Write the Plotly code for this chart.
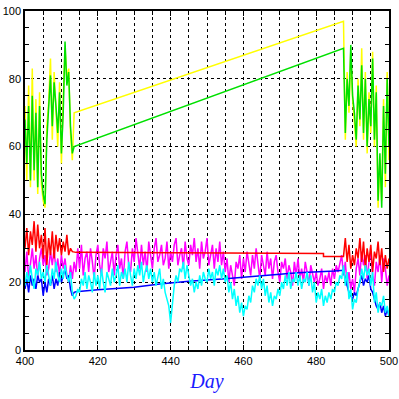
import numpy as np
import plotly.graph_objects as go

# ---- time axes (days) ----
days_full = np.arange(400.0, 500.01, 0.5)          # 201 points
days_left = np.arange(400.0, 413.51, 0.5)          # 28 points
days_right = np.arange(488.0, 500.01, 0.5)         # 25 points

# ---- series values ----
cyan_vals = [
    19, 23, 20, 25, 21, 18, 24, 22, 26, 21,
    23, 20, 25, 22, 19, 24, 21, 26, 22, 20,
    24, 21, 25, 22, 20, 23, 17, 15, 16, 18,
    17, 21, 19, 23, 18, 22, 20, 17, 23, 19,
    22, 18, 24, 20, 17, 23, 21, 19, 24, 20,
    22, 25, 19, 23, 21, 24, 20, 26, 22, 19,
    24, 21, 25, 22, 26, 20, 23, 25, 21, 24,
    20, 23, 19, 22, 24, 18, 21, 17, 15, 13,
    8, 14, 19, 22, 20, 24, 23, 26, 21, 25,
    22, 19, 21, 17, 20, 18, 22, 19, 23, 21,
    20, 24, 21, 23, 19, 24, 22, 25, 21, 24,
    20, 22, 17, 20, 15, 18, 13, 16, 11, 14,
    10, 13, 12, 16, 14, 19, 17, 21, 19, 22,
    18, 21, 16, 19, 14, 17, 13, 16, 15, 18,
    16, 20, 18, 22, 19, 23, 18, 21, 20, 23,
    19, 22, 18, 21, 20, 23, 19, 22, 17, 20,
    14, 17, 15, 18, 13, 16, 14, 17, 15, 18,
    17, 20, 19, 22, 21, 25, 19, 23, 15, 18,
    12, 15, 14, 18, 20, 24, 21, 25, 22, 24,
    19, 23, 14, 17, 11, 14, 13, 16, 11, 13,
    10,
]

magenta_vals = [
    23, 29, 21, 26, 30, 24, 28, 21, 27, 30,
    25, 28, 22, 24, 29, 25, 30, 23, 27, 22,
    28, 24, 27, 22, 20, 25, 21, 26, 23, 30,
    24, 31, 22, 27, 29, 23, 30, 26, 21, 28,
    31, 25, 22, 30, 27, 32, 23, 26, 29, 22,
    28, 31, 24, 27, 21, 29, 32, 25, 23, 30,
    26, 33, 28, 24, 31, 25, 29, 23, 32, 27,
    24, 30, 33, 26, 28, 31, 25, 27, 32, 24,
    29, 26, 31, 33, 25, 28, 30, 24, 32, 27,
    25, 31, 28, 33, 26, 30, 24, 32, 27, 29,
    33, 25, 28, 31, 24, 30, 26, 32, 25, 29,
    23, 27, 20, 25, 22, 19, 26, 24, 28, 21,
    27, 23, 29, 25, 22, 28, 24, 30, 26, 21,
    28, 25, 22, 29, 24, 27, 21, 26, 28, 23,
    20, 26, 24, 27, 21, 25, 23, 19, 26, 22,
    27, 21, 24, 20, 26, 23, 19, 25, 22, 20,
    23, 19, 21, 24, 18, 22, 20, 23, 19, 24,
    21, 25, 23, 26, 28, 22, 26, 19, 23, 18,
    21, 17, 24, 27, 22, 29, 25, 28, 21, 26,
    29, 22, 19, 26, 23, 28, 20, 27, 24, 19,
    22,
]

red_left = [30, 36, 28, 35, 31, 38, 29, 37, 30, 34, 27, 36, 25, 33,
            28, 35, 27, 34, 29, 33, 28, 32, 29, 34, 28, 30, 29, 29]
red_gap_days = [414.0, 482.0, 482.0, 487.5]
red_gap_vals = [28.8, 28.5, 27.6, 27.6]
red_right = [33, 26, 31, 24, 28, 25, 30, 27, 33, 26, 32, 24, 30,
             26, 31, 23, 29, 27, 32, 25, 30, 23, 28, 24, 27]

blue_left = [18, 21, 17, 22, 19, 21, 18, 22, 20, 21, 16, 20, 17, 21,
             19, 22, 18, 21, 19, 23, 20, 22, 24, 21, 22, 18, 16, 17]
blue_gap_days = [414.0, 420.0, 430.0, 437.0, 445.0, 455.0, 465.0, 475.0, 485.0, 487.5]
blue_gap_vals = [17.2, 17.8, 18.5, 19.5, 20.3, 21.0, 22.0, 22.8, 23.3, 23.5]
blue_right = [21, 19, 17, 16, 15, 17, 16, 18, 20, 22, 19, 21, 20,
              22, 18, 17, 15, 13, 12, 14, 11, 13, 10, 12, 10]

green_left = [68, 55, 72, 50, 75, 53, 70, 48, 72, 52, 46, 43, 62, 70,
              81, 66, 79, 72, 64, 76, 58, 70, 91, 78, 82, 66, 58, 60]
green_gap_days = [487.5]
green_gap_vals = [89]
green_right = [64, 80, 72, 90, 75, 70, 62, 78, 68, 84, 64, 80, 60,
               74, 66, 86, 62, 76, 44, 58, 42, 72, 52, 80, 60]

yellow_left = [72, 50, 78, 48, 83, 50, 74, 46, 76, 49, 44, 42, 66, 73,
               86, 62, 82, 70, 60, 79, 55, 74, 89, 80, 83, 64, 56, 70]
yellow_gap_days = [487.5]
yellow_gap_vals = [97]
yellow_right = [62, 82, 70, 88, 74, 68, 60, 80, 66, 89, 62, 82, 58,
                76, 64, 88, 60, 78, 42, 56, 44, 74, 48, 82, 56]

x_ticks = [400, 420, 440, 460, 480, 500]
y_ticks = [0, 20, 40, 60, 80, 100]

fig = go.Figure()
lw = 1.5


def add(xs, ys, color):
    fig.add_trace(go.Scatter(x=list(xs), y=list(ys), mode="lines",
                             line=dict(color=color, width=lw),
                             showlegend=False, hoverinfo="skip"))


def add_gapped(left, gap_days, gap_vals, right, color):
    xs = list(days_left) + list(gap_days) + list(days_right)
    ys = list(left) + list(gap_vals) + list(right)
    add(xs, ys, color)


add(days_full, magenta_vals, "#ff00ff")
add_gapped(red_left, red_gap_days, red_gap_vals, red_right, "#ff0000")
add_gapped(blue_left, blue_gap_days, blue_gap_vals, blue_right, "#0000ff")
add(days_full, cyan_vals, "#00ffff")
add_gapped(yellow_left, yellow_gap_days, yellow_gap_vals, yellow_right, "#ffff00")
add_gapped(green_left, green_gap_days, green_gap_vals, green_right, "#00e000")

tick_font = dict(family="Liberation Sans, Arial, sans-serif", size=11, color="black")

fig.update_layout(
    width=399, height=399,
    margin=dict(l=25, r=10, t=11, b=49),
    paper_bgcolor="white", plot_bgcolor="white",
    showlegend=False,
    xaxis=dict(
        range=[400, 500], tickmode="array", tickvals=x_ticks,
        ticktext=[str(v) for v in x_ticks],
        ticks="inside", ticklen=5, tickcolor="black",
        showline=True, linecolor="black", linewidth=1.5, mirror="allticks",
        showgrid=True, gridcolor="black", griddash="dot", gridwidth=1,
        minor=dict(dtick=5, tick0=400, ticks="inside", ticklen=4,
                   tickcolor="black", showgrid=True, gridcolor="black",
                   griddash="dot", gridwidth=1),
        tickfont=tick_font, zeroline=False, automargin=False,
        title=dict(text="<i>Day</i>", standoff=8,
                   font=dict(family="Liberation Serif, Times New Roman, serif",
                             size=20, color="#1a1aff")),
    ),
    yaxis=dict(
        range=[0, 100], tickmode="array", tickvals=y_ticks,
        ticktext=[str(v) for v in y_ticks],
        ticks="inside", ticklen=5, tickcolor="black",
        showline=True, linecolor="black", linewidth=1.5, mirror="allticks",
        showgrid=True, gridcolor="black", griddash="dot", gridwidth=1,
        minor=dict(dtick=5, tick0=0, ticks="inside", ticklen=4,
                   tickcolor="black", showgrid=False),
        tickfont=tick_font, zeroline=False, automargin=False,
    ),
)

fig.write_html("out.html", config={"displayModeBar": False},
               post_script="document.body.style.margin='0';")
